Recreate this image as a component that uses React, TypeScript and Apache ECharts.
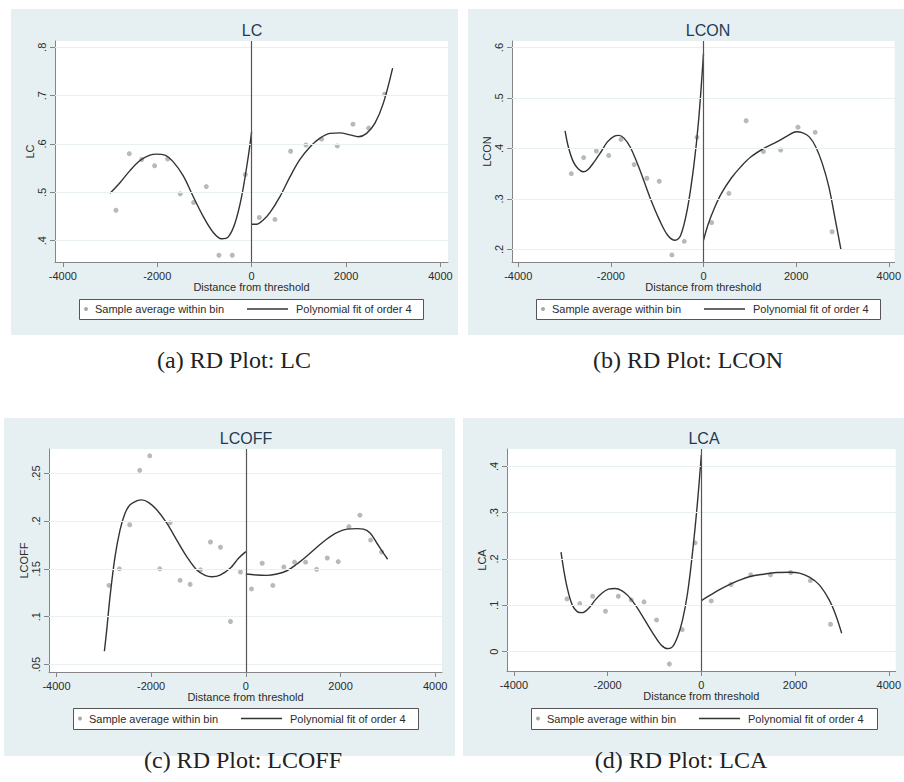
import React, { useEffect, useRef } from "react";
import * as echarts from "echarts";

// ---------- DATA ----------
const X_TICKS = [-4000, -2000, 0, 2000, 4000];

const LC_Y_TICKS = [0.4, 0.5, 0.6, 0.7, 0.8];
const LC_BIN_X = [-2874, -2591, -2330, -2055, -1779, -1511, -1229, -960, -692, -410, -134, 162, 494, 826, 1151, 1483, 1815, 2147, 2478, 2817];
const LC_BIN_Y = [0.463, 0.58, 0.568, 0.555, 0.569, 0.497, 0.479, 0.512, 0.37, 0.37, 0.537, 0.448, 0.444, 0.585, 0.598, 0.61, 0.596, 0.641, 0.633, 0.703];
const LC_FIT_LEFT_X = [-3001, -2789, -2577, -2365, -2154, -2012, -1836, -1659, -1448, -1236, -1024, -812, -635, -494, -353, -212, -71, 0];
const LC_FIT_LEFT_Y = [0.498, 0.52, 0.545, 0.566, 0.577, 0.579, 0.577, 0.563, 0.534, 0.491, 0.45, 0.417, 0.404, 0.408, 0.436, 0.491, 0.574, 0.625];
const LC_FIT_RIGHT_X = [0, 106, 247, 388, 600, 812, 1024, 1236, 1447, 1659, 1871, 2083, 2260, 2436, 2613, 2789, 2987];
const LC_FIT_RIGHT_Y = [0.434, 0.434, 0.443, 0.458, 0.491, 0.532, 0.568, 0.594, 0.612, 0.622, 0.623, 0.619, 0.615, 0.622, 0.643, 0.684, 0.757];

const LCON_Y_TICKS = [0.2, 0.3, 0.4, 0.5, 0.6];
const LCON_BIN_X = [-2854, -2587, -2313, -2046, -1779, -1497, -1223, -956, -682, -415, -141, 176, 548, 921, 1294, 1666, 2039, 2411, 2777];
const LCON_BIN_Y = [0.35, 0.382, 0.395, 0.386, 0.418, 0.368, 0.341, 0.335, 0.189, 0.216, 0.422, 0.253, 0.311, 0.455, 0.394, 0.397, 0.442, 0.432, 0.235];
const LCON_FIT_LEFT_X = [-2988, -2917, -2812, -2706, -2601, -2496, -2355, -2214, -2074, -1933, -1828, -1722, -1582, -1371, -1160, -949, -773, -612, -492, -352, -211, -105, 0];
const LCON_FIT_LEFT_Y = [0.435, 0.403, 0.374, 0.36, 0.354, 0.358, 0.374, 0.393, 0.413, 0.424, 0.426, 0.421, 0.403, 0.357, 0.304, 0.258, 0.228, 0.218, 0.228, 0.278, 0.364, 0.456, 0.588];
const LCON_FIT_RIGHT_X = [0, 105, 246, 387, 598, 808, 1019, 1301, 1582, 1793, 2004, 2144, 2285, 2425, 2566, 2707, 2847, 2967];
const LCON_FIT_RIGHT_Y = [0.218, 0.251, 0.284, 0.311, 0.341, 0.364, 0.383, 0.4, 0.413, 0.424, 0.433, 0.431, 0.423, 0.403, 0.37, 0.324, 0.258, 0.2];

const LCOFF_Y_TICKS = [0.05, 0.1, 0.15, 0.2, 0.25];
const LCOFF_BIN_X = [-2890, -2671, -2453, -2241, -2030, -1818, -1600, -1388, -1177, -958, -747, -536, -324, -113, 120, 345, 571, 803, 1029, 1262, 1494, 1720, 1952, 2178, 2410, 2636, 2869];
const LCOFF_BIN_Y = [0.1327, 0.15, 0.196, 0.2528, 0.268, 0.15, 0.198, 0.138, 0.1338, 0.149, 0.178, 0.1725, 0.095, 0.1467, 0.129, 0.1558, 0.1327, 0.152, 0.157, 0.157, 0.1495, 0.1613, 0.1575, 0.194, 0.206, 0.18, 0.1676];
const LCOFF_FIT_LEFT_X = [-2988, -2939, -2869, -2763, -2657, -2551, -2446, -2305, -2199, -2058, -1882, -1670, -1459, -1248, -1036, -860, -719, -543, -331, -155, 0];
const LCOFF_FIT_LEFT_Y = [0.064, 0.086, 0.121, 0.1627, 0.1907, 0.208, 0.2168, 0.221, 0.222, 0.2193, 0.2116, 0.1976, 0.18, 0.1627, 0.1488, 0.1432, 0.1418, 0.1435, 0.1505, 0.161, 0.168];
const LCOFF_FIT_RIGHT_X = [0, 233, 444, 655, 867, 1078, 1290, 1501, 1713, 1924, 2136, 2347, 2488, 2629, 2770, 2911, 2995];
const LCOFF_FIT_RIGHT_Y = [0.1446, 0.1435, 0.1432, 0.1446, 0.148, 0.155, 0.1634, 0.1725, 0.1812, 0.1879, 0.1914, 0.192, 0.1914, 0.1872, 0.1767, 0.1662, 0.16];

const LCA_Y_TICKS = [0, 0.1, 0.2, 0.3, 0.4];
const LCA_BIN_X = [-2868, -2594, -2320, -2046, -1772, -1497, -1223, -956, -682, -408, -134, 211, 633, 1054, 1476, 1905, 2327, 2756];
const LCA_BIN_Y = [0.1139, 0.1038, 0.1196, 0.0872, 0.1196, 0.1117, 0.1074, 0.0685, -0.0267, 0.0476, 0.235, 0.1095, 0.1449, 0.1658, 0.1658, 0.1708, 0.1535, 0.0591];
const LCA_FIT_LEFT_X = [-2995, -2931, -2861, -2756, -2650, -2545, -2404, -2264, -2123, -1982, -1842, -1701, -1561, -1385, -1209, -1033, -858, -717, -612, -506, -401, -295, -190, -84, 0];
const LCA_FIT_LEFT_Y = [0.2148, 0.173, 0.137, 0.101, 0.0865, 0.0843, 0.0937, 0.1117, 0.1261, 0.1348, 0.1362, 0.1319, 0.1204, 0.0973, 0.0685, 0.0396, 0.0144, 0.0065, 0.0108, 0.0324, 0.0685, 0.1261, 0.2126, 0.3207, 0.425];
const LCA_FIT_RIGHT_X = [0, 197, 408, 619, 830, 1040, 1322, 1603, 1884, 2095, 2306, 2517, 2728, 2868, 2995];
const LCA_FIT_RIGHT_Y = [0.1103, 0.1225, 0.1348, 0.1456, 0.155, 0.1622, 0.1672, 0.1708, 0.1715, 0.1694, 0.1607, 0.1441, 0.1117, 0.0793, 0.0396];

const LEGEND_POINTS = "Sample average within bin";
const LEGEND_FIT = "Polynomial fit of order 4";
const X_NAME = "Distance from threshold";

const PANEL_DATA = [
  { title: "LC", caption: "(a) RD Plot: LC", yTicks: LC_Y_TICKS, binX: LC_BIN_X, binY: LC_BIN_Y, lx: LC_FIT_LEFT_X, ly: LC_FIT_LEFT_Y, rx: LC_FIT_RIGHT_X, ry: LC_FIT_RIGHT_Y },
  { title: "LCON", caption: "(b) RD Plot: LCON", yTicks: LCON_Y_TICKS, binX: LCON_BIN_X, binY: LCON_BIN_Y, lx: LCON_FIT_LEFT_X, ly: LCON_FIT_LEFT_Y, rx: LCON_FIT_RIGHT_X, ry: LCON_FIT_RIGHT_Y },
  { title: "LCOFF", caption: "(c) RD Plot: LCOFF", yTicks: LCOFF_Y_TICKS, binX: LCOFF_BIN_X, binY: LCOFF_BIN_Y, lx: LCOFF_FIT_LEFT_X, ly: LCOFF_FIT_LEFT_Y, rx: LCOFF_FIT_RIGHT_X, ry: LCOFF_FIT_RIGHT_Y },
  { title: "LCA", caption: "(d) RD Plot: LCA", yTicks: LCA_Y_TICKS, binX: LCA_BIN_X, binY: LCA_BIN_Y, lx: LCA_FIT_LEFT_X, ly: LCA_FIT_LEFT_Y, rx: LCA_FIT_RIGHT_X, ry: LCA_FIT_RIGHT_Y },
];

// ---------- LAYOUT ----------
const LAYOUT = [
  { grid: { left: 55, top: 41, width: 393, height: 221 }, xMin: -4165, xMax: 4160, yMin: 0.356, yMax: 0.813, bg: [11, 9, 447, 326], legend: [79, 299, 344, 20], titleXY: [252, 30], captionXY: [234, 360] },
  { grid: { left: 512, top: 41, width: 392, height: 221 }, xMin: -4134, xMax: 4127, yMin: 0.175, yMax: 0.613, bg: [468, 9, 450, 326], legend: [536, 299, 344, 20], titleXY: [708, 30], captionXY: [688, 360] },
  { grid: { left: 49, top: 449, width: 393, height: 223 }, xMin: -4158, xMax: 4144, yMin: 0.0423, yMax: 0.2751, bg: [4, 418, 451, 338], legend: [73, 708, 345, 21], titleXY: [246, 438], captionXY: [243, 760] },
  { grid: { left: 507, top: 449, width: 394, height: 222 }, xMin: -4148, xMax: 4148, yMin: -0.0418, yMax: 0.4375, bg: [463, 418, 450, 338], legend: [531, 708, 346, 21], titleXY: [704, 438], captionXY: [681, 760] },
];

const SANS = "'Liberation Sans', Arial, Helvetica, sans-serif";
const SERIF = "'Liberation Serif', 'Times New Roman', serif";
const AXIS_COLOR = "#858585";
const TEXT_COLOR = "#2b2b2b";
const POINT_COLOR = "#a8a8a8";
const FIT_COLOR = "#333333";
const PANEL_BG = "#e6f0f2";
const GRIDLINE = "#e9f0f2";
const TITLE_COLOR = "#1f3a55";

const zip = (xs: number[], ys: number[]) => xs.map((x, i) => [x, ys[i]]);
const fmtY = (v: number) => {
  const r = Math.round(v * 1000) / 1000;
  if (r === 0) return "0";
  return String(r).replace(/^0\./, ".").replace(/^-0\./, "-.");
};

function buildOption() {
  const grid: any[] = [];
  const xAxis: any[] = [];
  const yAxis: any[] = [];
  const series: any[] = [];
  const graphic: any[] = [];

  PANEL_DATA.forEach((p, i) => {
    const L = LAYOUT[i];
    grid.push({ ...L.grid, show: true, backgroundColor: "#ffffff", borderWidth: 0, containLabel: false });
    xAxis.push({
      type: "value",
      gridIndex: i,
      min: L.xMin,
      max: L.xMax,
      axisLine: { show: true, onZero: false, lineStyle: { color: AXIS_COLOR, width: 1 } },
      axisTick: { show: true, length: 5, customValues: X_TICKS, lineStyle: { color: AXIS_COLOR } },
      axisLabel: { customValues: X_TICKS, margin: 8, fontSize: 11, color: TEXT_COLOR, fontFamily: SANS, formatter: (v: number) => String(v) },
      splitLine: { show: false },
      name: X_NAME,
      nameLocation: "middle",
      nameGap: 19,
      nameTextStyle: { fontSize: 11, color: TEXT_COLOR, fontFamily: SANS },
    });
    yAxis.push({
      type: "value",
      gridIndex: i,
      min: L.yMin,
      max: L.yMax,
      axisLine: { show: true, onZero: false, lineStyle: { color: AXIS_COLOR, width: 1 } },
      axisTick: { show: true, length: 5, customValues: p.yTicks, lineStyle: { color: AXIS_COLOR } },
      axisLabel: { customValues: p.yTicks, rotate: 90, margin: 8, fontSize: 11, color: TEXT_COLOR, fontFamily: SANS, formatter: fmtY },
      splitLine: { show: false },
      name: p.title,
      nameLocation: "middle",
      nameRotate: 90,
      nameGap: 20,
      nameTextStyle: { fontSize: 11, color: TEXT_COLOR, fontFamily: SANS },
    });
    series.push({
      type: "scatter",
      name: LEGEND_POINTS,
      xAxisIndex: i,
      yAxisIndex: i,
      data: zip(p.binX, p.binY),
      symbolSize: 5,
      itemStyle: { color: POINT_COLOR },
      silent: true,
      z: 3,
      markLine: {
        silent: true,
        symbol: ["none", "none"],
        label: { show: false },
        lineStyle: { type: "solid" },
        data: [
          ...p.yTicks.map((v) => ({ yAxis: v, lineStyle: { color: GRIDLINE, width: 1, type: "solid" } })),
          { xAxis: 0, lineStyle: { color: "#555555", width: 1.2, type: "solid" } },
        ],
      },
    });
    [
      [p.lx, p.ly],
      [p.rx, p.ry],
    ].forEach(([xs, ys]) => {
      series.push({
        type: "line",
        name: LEGEND_FIT,
        xAxisIndex: i,
        yAxisIndex: i,
        data: zip(xs, ys),
        smooth: 0.35,
        showSymbol: false,
        symbol: "none",
        silent: true,
        z: 4,
        lineStyle: { color: FIT_COLOR, width: 1.4 },
      });
    });

    const [bx, by, bw, bh] = L.bg;
    graphic.push({ type: "rect", z: -10, silent: true, shape: { x: bx, y: by, width: bw, height: bh }, style: { fill: PANEL_BG } });
    graphic.push({
      type: "text",
      z: 50,
      x: L.titleXY[0],
      y: L.titleXY[1],
      style: { text: p.title, fontSize: 16, fontFamily: SANS, fill: TITLE_COLOR, align: "center", verticalAlign: "middle" },
    });
    const [lx, ly, lw, lh] = L.legend;
    const cy = ly + lh / 2;
    graphic.push({ type: "rect", z: 50, shape: { x: lx + 0.5, y: ly + 0.5, width: lw, height: lh }, style: { fill: "#ffffff", stroke: "#555555", lineWidth: 1 } });
    graphic.push({ type: "circle", z: 51, shape: { cx: lx + 7, cy, r: 2 }, style: { fill: POINT_COLOR } });
    graphic.push({ type: "text", z: 51, x: lx + 16, y: cy, style: { text: LEGEND_POINTS, fontSize: 11, fontFamily: SANS, fill: TEXT_COLOR, align: "left", verticalAlign: "middle" } });
    graphic.push({ type: "line", z: 51, shape: { x1: lx + 168, y1: cy, x2: lx + 209, y2: cy }, style: { stroke: FIT_COLOR, lineWidth: 1.4 } });
    graphic.push({ type: "text", z: 51, x: lx + 217, y: cy, style: { text: LEGEND_FIT, fontSize: 11, fontFamily: SANS, fill: TEXT_COLOR, align: "left", verticalAlign: "middle" } });
    graphic.push({
      type: "text",
      z: 50,
      x: L.captionXY[0],
      y: L.captionXY[1],
      style: { text: p.caption, fontSize: 24, fontFamily: SERIF, fill: "#222222", align: "center", verticalAlign: "middle" },
    });
  });

  return {
    animation: false,
    backgroundColor: "#ffffff",
    grid,
    xAxis,
    yAxis,
    series,
    graphic: { elements: graphic },
  };
}

export default function App() {
  const ref = useRef<HTMLDivElement | null>(null);
  useEffect(() => {
    document.body.style.margin = "0";
    if (!ref.current) return;
    const chart = echarts.init(ref.current, undefined, { renderer: "svg" });
    chart.setOption(buildOption() as any);
    return () => chart.dispose();
  }, []);
  return <div ref={ref} style={{ width: 904, height: 782 }} />;
}
